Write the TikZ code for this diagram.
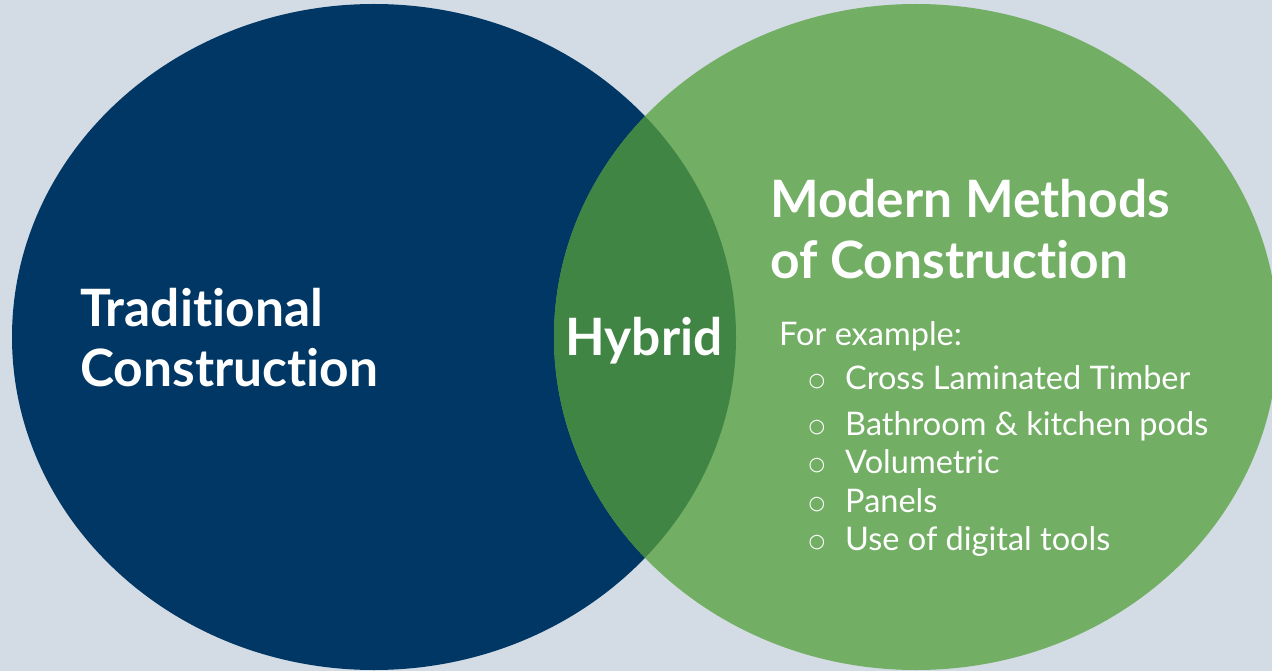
\documentclass[tikz,border=0pt]{standalone}
\usepackage{fontspec}
\setmainfont[Ligatures=NoCommon]{Lato}
\newfontfamily\symfont{DejaVu Sans}
\usepackage{xcolor}
\definecolor{bgGrey}{HTML}{D3DBE4}
\definecolor{tradBlue}{HTML}{003764}
\definecolor{mmcGreen}{HTML}{72AE64}
\definecolor{hybGreen}{HTML}{408543}
\newcommand{\bigtitle}{\fontsize{51.5}{60}\selectfont\bfseries}
\newcommand{\itemfont}{\fontsize{32.5}{38}\selectfont}

\begin{document}
\begin{tikzpicture}[x=1pt,y=-1pt,
    title/.style={text=white,anchor=base west,inner sep=0pt,font=\bigtitle},
    listitem/.style={text=white,anchor=base west,inner sep=0pt,font=\itemfont},
    bulletmark/.style={text=white,anchor=center,inner sep=0pt,font=\symfont\fontsize{19}{19}\selectfont}]
      % background
      \fill[bgGrey] (0,0) rectangle (1272,671);
      \useasboundingbox (0,0) rectangle (1272,671);
      % the two sets
      \fill[tradBlue] (374,337) ellipse[x radius=362, y radius=333];
      \fill[mmcGreen] (916,337) ellipse[x radius=362, y radius=333];
      % overlap
      \begin{scope}
        \clip (374,337) ellipse[x radius=362, y radius=333];
        \fill[hybGreen] (916,337) ellipse[x radius=362, y radius=333];
      \end{scope}
      % labels
      \node[title] (trad1) at (80,326) {Traditional};
      \node[title] (trad2) at (80,386) {Construction};
      \node[text=white,anchor=base,inner sep=0pt,font=\bigtitle] (hybrid) at (644,355) {Hybrid};
      \node[title] (mmc1) at (770,218) {Modern Methods};
      \node[title] (mmc2) at (770,278) {of Construction};
      \node[listitem] (example) at (779,345) {For example:};
      % list
      \foreach \y/\txt [count=\i] in {389/Cross Laminated Timber,435/Bathroom \& kitchen pods,
          473/Volumetric,512/Panels,550/Use of digital tools} {
        \node[bulletmark] (dot\i) at (817,\y-7) {○};
        \node[listitem] (item\i) at (845,\y) {\txt};
      }
    \end{tikzpicture}
\end{document}
